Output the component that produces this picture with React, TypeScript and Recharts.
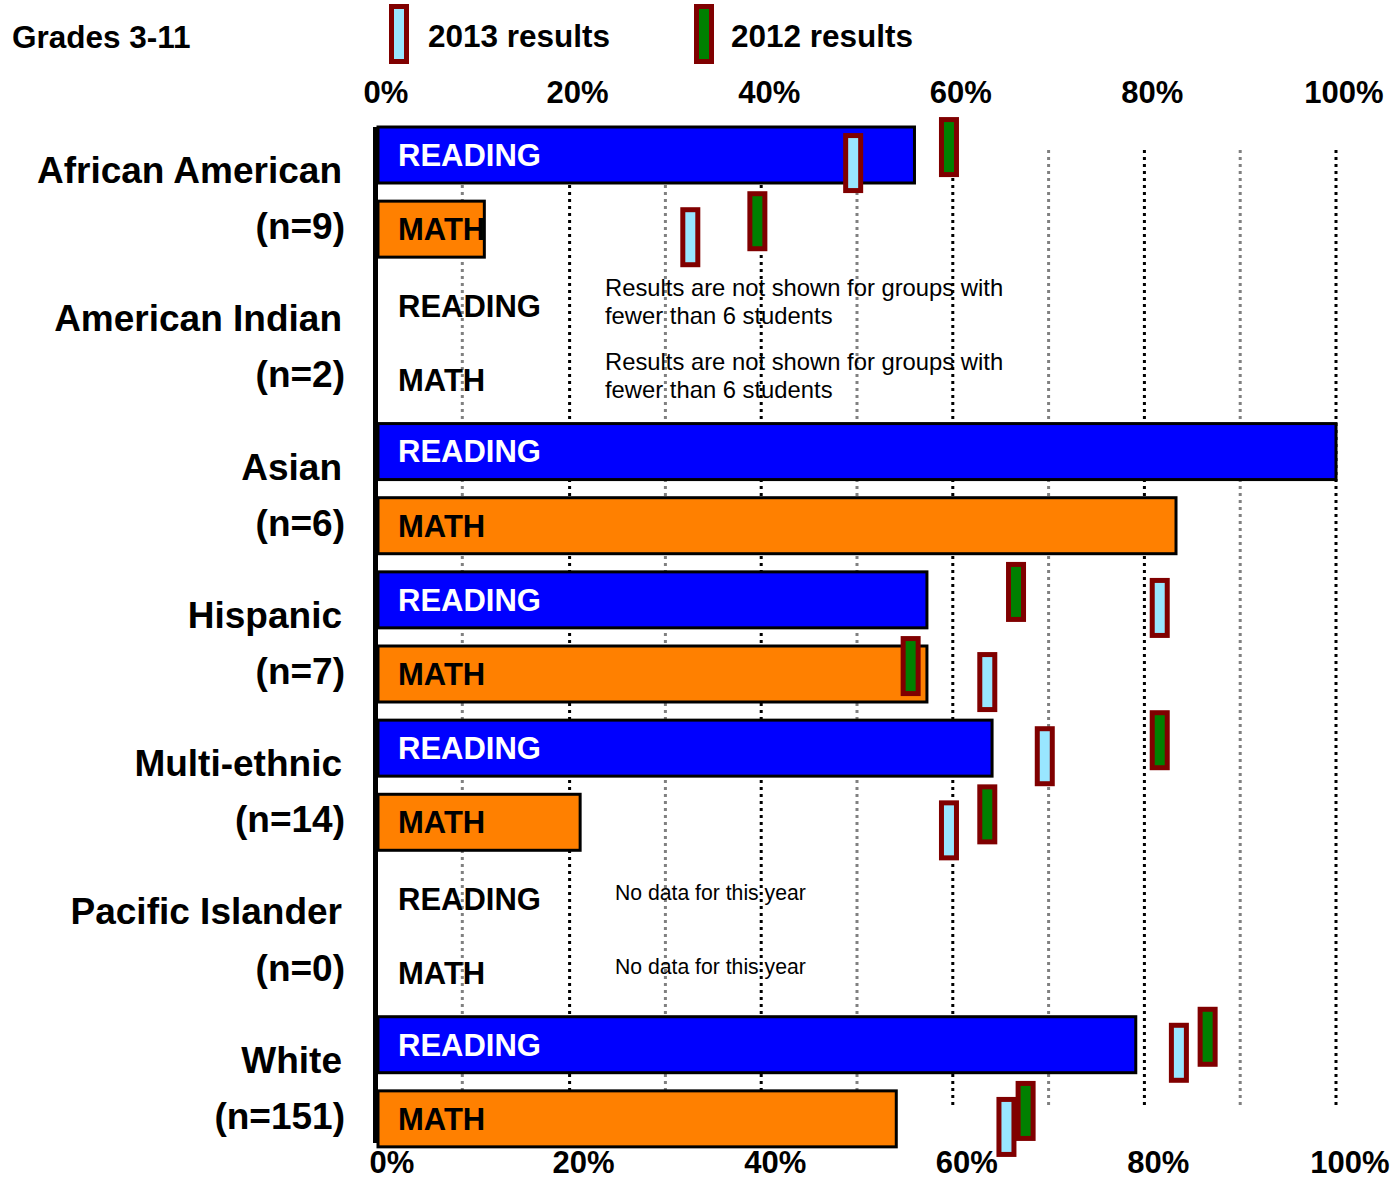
import React from "react";
import {
  ComposedChart,
  Bar,
  Scatter,
  XAxis,
  YAxis,
  CartesianGrid
} from "recharts";

/* ---------------- DATA ---------------- */

const groups = [
  "African American",
  "American Indian",
  "Asian",
  "Hispanic",
  "Multi-ethnic",
  "Pacific Islander",
  "White"
];
const counts = ["(n=9)", "(n=2)", "(n=6)", "(n=7)", "(n=14)", "(n=0)", "(n=151)"];

const readingNow = [56, null, 100, 57.3, 64.1, null, 79.1];
const mathNow = [11.1, null, 83.3, 57.3, 21.1, null, 54.1];

const reading2013 = [49.6, null, null, 81.6, 69.6, null, 83.6];
const reading2012 = [59.6, null, null, 66.6, 81.6, null, 86.6];
const math2013 = [32.6, null, null, 63.6, 59.6, null, 65.6];
const math2012 = [39.6, null, null, 55.6, 63.6, null, 67.6];

const notes: (string[] | null)[] = [
  null,
  ["Results are not shown for groups with", "fewer than 6 students"],
  null,
  null,
  null,
  ["No data for this year"],
  null
];

const axisTicks = [0, 20, 40, 60, 80, 100];
const darkLines = [20, 40, 60, 80, 100];
const greyLines = [8.8, 30, 50, 70, 90];

/* ---------------- STYLE ---------------- */

const FONT = "'Liberation Sans', Arial, Helvetica, sans-serif";
const BLUE = "#0000FF";
const ORANGE = "#FF8000";
const MAROON = "#800000";
const LIGHT = "#99E6FF";
const GREEN = "#008000";

type Row = {
  row: string;
  gi: number;
  subject: "READING" | "MATH";
  value: number | null;
  y13: number | null;
  y12: number | null;
};

const rows: Row[] = [];
groups.forEach((_, i) => {
  rows.push({
    row: `${i}-r`,
    gi: i,
    subject: "READING",
    value: readingNow[i],
    y13: reading2013[i],
    y12: reading2012[i]
  });
  rows.push({
    row: `${i}-m`,
    gi: i,
    subject: "MATH",
    value: mathNow[i],
    y13: math2013[i],
    y12: math2012[i]
  });
});

// x position of a percentage on the value axis
function mapX(args: any, v: number): number {
  const s = args?.xAxis?.scale;
  if (typeof s === "function") return s(v);
  if (s && typeof s.map === "function") return s.map(v);
  const off = args?.offset;
  return off.left + (v / 100) * off.width;
}

/* ---------------- SHAPES ---------------- */

function markerRect(cx: number, cy: number, fill: string, key?: string) {
  return (
    <g key={key}>
      <rect x={cx - 10} y={cy - 30} width={20} height={60} fill={MAROON} />
      <rect x={cx - 5} y={cy - 25} width={10} height={50} fill={fill} />
    </g>
  );
}

const makeMarker = (fill: string, dy: number) => (props: any) => {
  const { cx, cy } = props;
  if (cx == null || cy == null || Number.isNaN(cx)) return <g />;
  return markerRect(cx, cy + dy, fill);
};

const BarShape = (props: any) => {
  const { x, y, width, height, payload } = props;
  const isReading = payload.subject === "READING";
  return (
    <g>
      <rect
        x={x}
        y={y}
        width={width}
        height={height}
        fill={isReading ? BLUE : ORANGE}
        stroke="#000"
        strokeWidth={3}
      />
      <text
        x={x + 20}
        y={y + height / 2}
        dy="0.35em"
        fontFamily={FONT}
        fontWeight="bold"
        fontSize={31}
        fill={isReading ? "#fff" : "#000"}
      >
        {payload.subject}
      </text>
    </g>
  );
};

const RowTick = (props: any) => {
  const { x, y, index } = props;
  const r = rows[index];
  if (!r) return null;
  const out: React.ReactNode[] = [];
  if (r.subject === "READING") {
    out.push(
      <text key="g" x={x - 36} y={y + 15} dy="0.35em" textAnchor="end"
        fontFamily={FONT} fontWeight="bold" fontSize={37} fill="#000">
        {groups[r.gi]}
      </text>
    );
  } else {
    out.push(
      <text key="n" x={x - 33} y={y - 3} dy="0.35em" textAnchor="end"
        fontFamily={FONT} fontWeight="bold" fontSize={37} fill="#000">
        {counts[r.gi]}
      </text>
    );
  }
  if (r.value == null) {
    out.push(
      <text key="s" x={x + 20} y={y + 3} dy="0.35em"
        fontFamily={FONT} fontWeight="bold" fontSize={31} fill="#000">
        {r.subject}
      </text>
    );
    const note = notes[r.gi];
    if (note && note.length === 2) {
      out.push(
        <text key="t" fontFamily={FONT} fontSize={23.8} fill="#000">
          <tspan x={x + 227} y={y - 16} dy="0.35em">{note[0]}</tspan>
          <tspan x={x + 227} y={y + 12} dy="0.35em">{note[1]}</tspan>
        </text>
      );
    } else if (note) {
      out.push(
        <text key="t" x={x + 237} y={y - 4} dy="0.35em"
          fontFamily={FONT} fontSize={21.2} fill="#000">
          {note[0]}
        </text>
      );
    }
  }
  return <g>{out}</g>;
};

const TopTick = (props: any) => {
  const { x, y, payload } = props;
  return (
    <text x={x + 8} y={y} textAnchor="middle" fontFamily={FONT}
      fontWeight="bold" fontSize={31} fill="#000">
      {payload.value}%
    </text>
  );
};

const BottomTick = (props: any) => {
  const { x, y, payload } = props;
  return (
    <text x={x + 14} y={y} textAnchor="middle" fontFamily={FONT}
      fontWeight="bold" fontSize={31} fill="#000">
      {payload.value}%
    </text>
  );
};

/* ---------------- COMPONENT ---------------- */

export default function App() {
  return (
    <div style={{ position: "absolute", left: 0, top: 0, width: 1391, height: 1180, background: "#fff", fontFamily: FONT }}>
      <ComposedChart
        width={1391}
        height={1180}
        data={rows}
        layout="vertical"
        margin={{ top: 0, right: 55, bottom: 0, left: 0 }}
      >
        <XAxis
          type="number"
          orientation="top"
          domain={[0, 100]}
          ticks={axisTicks}
          height={118}
          axisLine={false}
          tickLine={false}
          tickSize={0}
          tickMargin={15}
          tick={<TopTick />}
        />
        <XAxis
          xAxisId="b"
          type="number"
          orientation="bottom"
          domain={[0, 100]}
          allowDataOverflow
          ticks={axisTicks}
          height={24}
          axisLine={false}
          tickLine={false}
          tickSize={0}
          tickMargin={17}
          tick={<BottomTick />}
        />
        <YAxis
          type="category"
          dataKey="row"
          width={378}
          axisLine={false}
          tickLine={false}
          tickSize={0}
          tickMargin={0}
          interval={0}
          tick={<RowTick />}
        />
        <CartesianGrid
          horizontal={false}
          y={150}
          height={957}
          stroke="#808080"
          strokeWidth={3}
          strokeDasharray="3 4"
          verticalCoordinatesGenerator={(args: any) => greyLines.map(v => mapX(args, v))}
        />
        <CartesianGrid
          horizontal={false}
          y={150}
          height={957}
          stroke="#000"
          strokeWidth={3}
          strokeDasharray="3 4"
          verticalCoordinatesGenerator={(args: any) => darkLines.map(v => mapX(args, v))}
        />
        <CartesianGrid
          horizontal={false}
          y={127}
          height={1016}
          stroke="#000"
          strokeWidth={5}
          verticalCoordinatesGenerator={(args: any) => [mapX(args, 0) - 2.5]}
        />
        <Bar dataKey="value" barSize={56} shape={<BarShape />} isAnimationActive={false} />
        <Scatter dataKey="y12" shape={makeMarker(GREEN, -8)} isAnimationActive={false} />
        <Scatter dataKey="y13" shape={makeMarker(LIGHT, 8)} isAnimationActive={false} />
      </ComposedChart>

      <svg width={1391} height={70} style={{ position: "absolute", left: 0, top: 0 }}>
        <text x={12} y={48} fontFamily={FONT} fontWeight="bold" fontSize={31.5} fill="#000">
          Grades 3-11
        </text>
        {markerRect(399, 34, LIGHT, "l1")}
        <text x={428} y={47} fontFamily={FONT} fontWeight="bold" fontSize={31.5} fill="#000">
          2013 results
        </text>
        {markerRect(704, 34, GREEN, "l2")}
        <text x={731} y={47} fontFamily={FONT} fontWeight="bold" fontSize={31.5} fill="#000">
          2012 results
        </text>
      </svg>
    </div>
  );
}
